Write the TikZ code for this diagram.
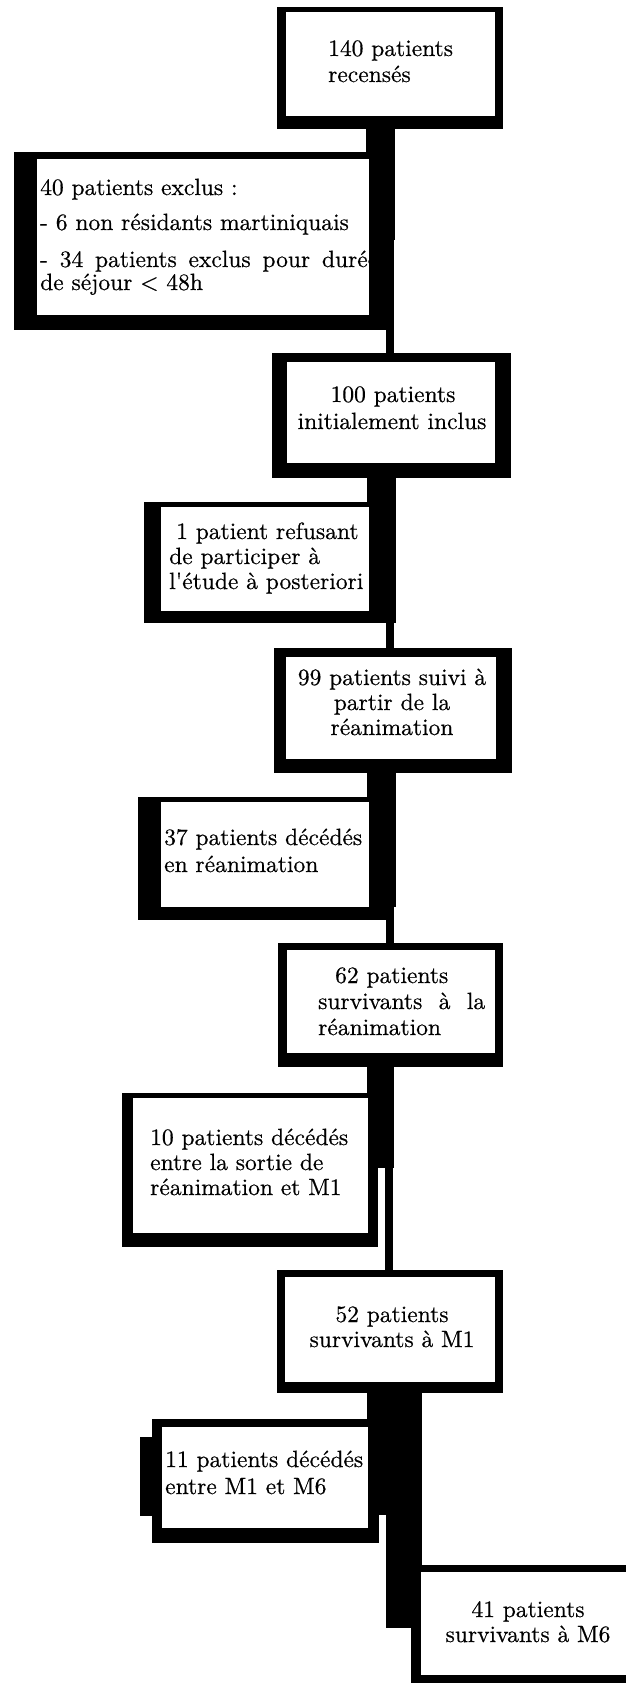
\documentclass[tikz,border=0pt]{standalone}
\usepackage{fontspec}
\newfontfamily\reffont{lmroman10-regular.otf}[FakeBold=0.5]
\begin{document}
\begin{tikzpicture}[x=1pt,y=-1pt,
  frame/.style={fill=black},
  hole/.style={fill=white},
  txt/.style={inner sep=0pt, font=\reffont\fontsize{23.5}{25}\selectfont, text=black},
  lt/.style={txt, anchor=base west},
  ct/.style={txt, anchor=base}]
\useasboundingbox (0,0) rectangle (626,1683);
\clip (0,0) rectangle (626,1683);
\fill[white] (0,0) rectangle (626,1683);

% ---- black frames and connectors
\fill[frame] (277,7) rectangle (503,129);        % 140
\fill[frame] (366,129) rectangle (395,240);      % connector
\fill[frame] (386,240) rectangle (394,353);
\fill[frame] (14,152) rectangle (386,330);       % excluded
\fill[frame] (272,353) rectangle (511,478);      % 100
\fill[frame] (367,478) rectangle (396,623);
\fill[frame] (144,502) rectangle (390,623);      % 1 patient
\fill[frame] (386,623) rectangle (394,648);
\fill[frame] (274,648) rectangle (512,773);      % 99
\fill[frame] (367,773) rectangle (396,907);
\fill[frame] (138,797) rectangle (394,920);      % 37
\fill[frame] (386,920) rectangle (394,943);
\fill[frame] (278,943) rectangle (503,1067);     % 62
\fill[frame] (367,1067) rectangle (394,1168);
\fill[frame] (122,1093) rectangle (378,1247);    % 10
\fill[frame] (385,1168) rectangle (393,1270);
\fill[frame] (277,1270) rectangle (503,1393);    % 52
\fill[frame] (367,1393) rectangle (422,1515);
\fill[frame] (386,1515) rectangle (422,1567);
\fill[frame] (386,1567) rectangle (412,1628);
\fill[frame] (152,1419) rectangle (379,1543);    % 11
\fill[frame] (140,1437) rectangle (152,1516);
\fill[frame] (411,1565) rectangle (640,1683);    % 41

% ---- white interiors
\fill[hole] (286,12) rectangle (495,116);
\fill[hole] (37,159) rectangle (369,315);
\fill[hole] (287,362) rectangle (495,463);
\fill[hole] (161,507) rectangle (369,611);
\fill[hole] (286,657) rectangle (496,759);
\fill[hole] (161,802) rectangle (369,907);
\fill[hole] (287,950) rectangle (495,1053);
\fill[hole] (133,1098) rectangle (368,1233);
\fill[hole] (285,1277) rectangle (495,1382);
\fill[hole] (162,1427) rectangle (368,1528);
\fill[hole] (421,1572) rectangle (640,1675);

% ---- texts
\node[lt] (a1) at (328,56) {140 patients};
\node[lt] (a2) at (328,82) {recensés};

\begin{scope}
\clip (37,159) rectangle (369,315);
\node[lt] (e1) at (40,195) {40 patients exclus :};
\node[lt] (e2) at (40,230) {- 6 non résidants martiniquais};
\node[lt] (e3) at (40,267) {\makebox[338pt][s]{- 34 patients exclus pour durée}};
\node[lt] (e4) at (40,290) {de séjour < 48h};
\end{scope}

\node[ct] (b1) at (393,402) {100 patients};
\node[ct] (b2) at (392,429) {initialement inclus};

\node[lt] (c1) at (176,539) {1 patient refusant};
\node[lt] (c2) at (169,564) {de participer à};
\node[lt] (c3) at (169,589) {l'étude à posteriori};

\node[ct] (d1) at (392,685) {99 patients suivi à};
\node[ct] (d2) at (392,710) {partir de la};
\node[ct] (d3) at (392,735) {réanimation};

\begin{scope}
\clip (161,802) rectangle (369,907);
\node[lt] (f1) at (164,845) {37 patients décédés};
\node[lt] (f2) at (164,872) {en réanimation};
\end{scope}

\node[lt] (g1) at (335,983) {62 patients};
\node[lt] (g2) at (318,1009) {\makebox[167pt][s]{survivants à la}};
\node[lt] (g3) at (318,1035) {réanimation};

\node[lt] (h1) at (150,1145) {10 patients décédés};
\node[lt] (h2) at (150,1170) {entre la sortie de};
\node[lt] (h3) at (150,1195) {réanimation et M1};

\node[ct] (i1) at (392,1322) {52 patients};
\node[ct] (i2) at (392,1347) {survivants à M1};

\node[lt] (j1) at (165,1467) {11 patients décédés};
\node[lt] (j2) at (165,1494) {entre M1 et M6};

\node[ct] (k1) at (528,1617) {41 patients};
\node[ct] (k2) at (528,1642) {survivants à M6};
\end{tikzpicture}
\end{document}
